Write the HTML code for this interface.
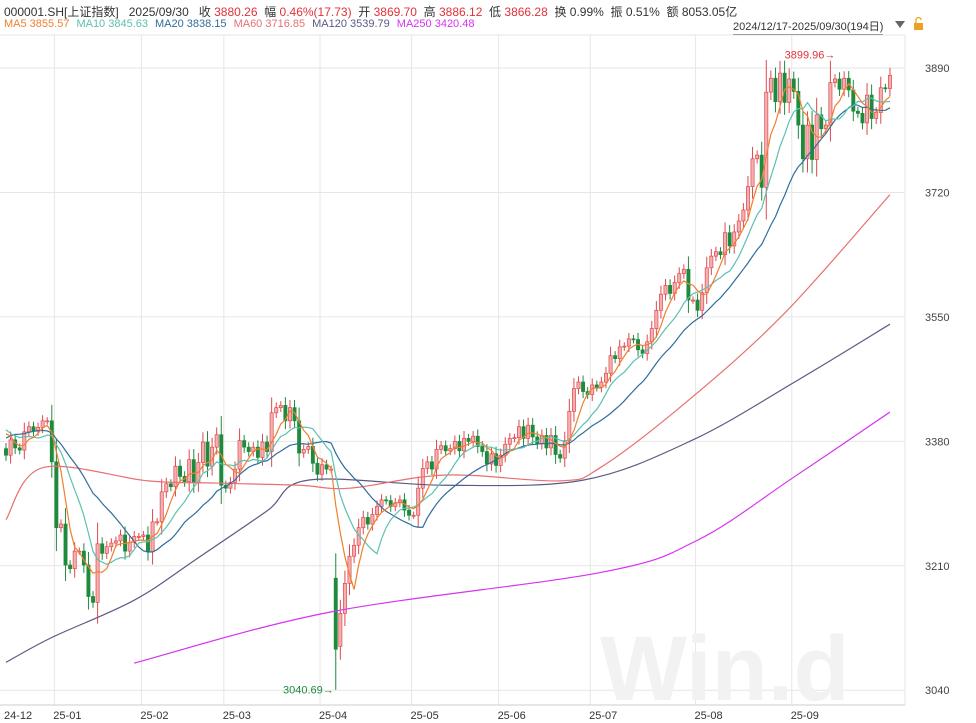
<!DOCTYPE html>
<html><head><meta charset="utf-8">
<style>
body{margin:0;background:#fff;width:976px;height:723px;overflow:hidden;font-family:"Liberation Sans","Noto Sans CJK SC",sans-serif;}
#hdr{position:absolute;left:4px;top:3px;font-size:12px;color:#333;white-space:nowrap}
#hdr .r{color:#e0323a}
#mas{position:absolute;left:4px;top:18px;font-size:11px;white-space:nowrap}
#mas span{margin-right:7px}
#range{position:absolute;left:733px;top:18px;font-size:11px;color:#333;border-bottom:1px solid #555}
svg{position:absolute;left:0;top:0}
</style></head><body>
<div id="hdr">000001.SH[上证指数]&nbsp;&nbsp; 2025/09/30&nbsp;&nbsp; 收 <span class="r">3880.26</span>&nbsp; 幅 <span class="r">0.46%(17.73)</span>&nbsp; 开 <span class="r">3869.70</span>&nbsp; 高 <span class="r">3886.12</span>&nbsp; 低 <span class="r">3866.28</span>&nbsp; 换 0.99%&nbsp; 振 0.51%&nbsp; 额 8053.05亿</div>
<div id="mas"><span style="color:#f07f2f">MA5 3855.57</span><span style="color:#5cc0b0">MA10 3845.63</span><span style="color:#2f6d9c">MA20 3838.15</span><span style="color:#e87070">MA60 3716.85</span><span style="color:#5a5a85">MA120 3539.79</span><span style="color:#d633f0">MA250 3420.48</span></div>
<div id="range">2024/12/17-2025/09/30(194日)</div>
<svg id="c" width="976" height="723"></svg>
<script>
const priorCloses=[3325,3330,3360,3378,3364,3368,3378,3404,3422,3402,3432,3405,3391,3384,3394,3400,3415,3390,3386];
const closes=[3361,3382,3371,3368,3393,3400,3394,3399,3408,3408,3352,
3262,3267,3211,3206,3230,3230,3211,3168,3160,3240,3227,3236,3241,3244,3252,3230,3242,3250,3250,
3252,3229,3270,3270,3311,3322,3318,3346,3332,3325,3355,3324,3351,3379,3346,3372,3389,3320,
3316,3324,3342,3381,3372,3366,3372,3358,3379,3366,3419,3426,3429,3408,3426,3408,3364,3369,3373,3350,3335,
3348,3342,3342,3096,3145,3186,3223,3238,3262,3276,3267,3280,3291,3300,3299,3291,3296,3300,3286,3279,
3279,3316,3343,3352,3342,3369,3374,3367,3370,3380,3367,3384,3380,3387,3373,3366,3349,3363,3347,
3361,3376,3384,3385,3400,3384,3402,3386,3377,3388,3371,3388,3362,3357,3381,3421,3452,3461,3448,3444,
3457,3454,3461,3473,3497,3493,3509,3510,3520,3519,3505,3500,3516,3534,3559,3581,3593,3582,3597,3609,3615,3573,3573,
3559,3583,3617,3633,3639,3635,3665,3647,3666,3681,3696,3728,3766,3771,3727,3857,3876,3844,3883,3843,3875,
3858,3812,3766,3812,3765,3826,3807,3812,3870,3875,3861,3876,3860,3831,3828,3815,3853,3821,3829,3863,3862,3880];
const openOverrides=[[0,3370],[72,3193],[73,3100]];
const extremes=[[72,'low',3040.69],[180,'high',3899.96]];
const ma60=[[0,3273],[8,3344],[31,3326],[46,3323],[64,3320],[75,3316],[96,3334],[121,3326],[130,3345],[149,3436],[170,3555],[193,3717]];
const ma120=[[0,3078],[10,3112],[28,3163],[42,3221],[57,3285],[66,3327],[96,3320],[126,3327],[150,3382],[173,3464],[193,3540]];
const ma250=[[28,3077],[71,3147],[130,3201],[151,3245],[172,3331],[193,3420]];
const yTicks=[3890,3720,3550,3380,3210,3040];
const monthLabels=['24-12','25-01','25-02','25-03','25-04','25-05','25-06','25-07','25-08','25-09'];
const monthStarts=[0,11,30,48,69,89,108,128,151,172];

const svg=document.getElementById('c');const NS='http://www.w3.org/2000/svg';
const X=i=>6+i*4.58;const Y=v=>68+(3890-v)*0.732;
function mk(t,a,p){const e=document.createElementNS(NS,t);for(const k in a)e.setAttribute(k,a[k]);(p||svg).appendChild(e);return e;}
mk('line',{x1:0,x2:905,y1:35,y2:35,stroke:'#e6e6e6'});
yTicks.forEach(v=>{const l=mk('line',{x1:0,x2:905,y1:Y(v),y2:Y(v),stroke:'#e6e6e6'});

const t=mk('text',{x:925,y:Y(v)+4,'font-size':11,fill:'#444'});t.textContent=v;
});
monthStarts.forEach((m,k)=>{const x=X(m)-2;if(k>0){const l=mk('line',{x1:x,x2:x,y1:35,y2:705,stroke:'#e6e6e6'});
}
const t=mk('text',{x:k==0?4:x+13,y:719,'font-size':11,fill:'#333','text-anchor':k==0?'start':'middle'});t.textContent=monthLabels[k];
});
mk('line',{x1:0,x2:905,y1:705,y2:705,stroke:'#ccc'});
mk('line',{x1:905,x2:905,y1:35,y2:705,stroke:'#e6e6e6'});
const wm=mk('text',{x:600,y:700,'font-size':92,fill:'#f2f2f2','font-weight':'bold'});wm.textContent='Win.d';

const opens=closes.map((c,i)=>i?closes[i-1]:c);openOverrides.forEach(([i,v])=>opens[i]=v);
const highs=closes.map((c,i)=>Math.max(c,opens[i])+Math.abs(c-opens[i])*0.3+5);
const lows=closes.map((c,i)=>Math.min(c,opens[i])-Math.abs(c-opens[i])*0.3-5);
extremes.forEach(([i,k,v])=>{if(k=='low')lows[i]=v;else highs[i]=v;});
closes.forEach((c,i)=>{const o=opens[i];const up=c>=o;const col=up?'#e0474c':'#1e8a3c';const x=X(i);
const g=mk('g',{});
mk('line',{x1:x,x2:x,y1:Y(highs[i]),y2:Y(lows[i]),stroke:col,'stroke-width':1},g);
const t=Y(Math.max(o,c)),b=Y(Math.min(o,c));
mk('rect',{x:x-1.6,y:t,width:3.2,height:Math.max(1,b-t),fill:up?'#f4b0b0':col,stroke:col,'stroke-width':0.7},g);});
const all=priorCloses.concat(closes);const P=priorCloses.length;
function maCalc(n){return closes.map((_,i)=>{const k=i+P;if(k<n-1)return null;let s=0;for(let j=k-n+1;j<=k;j++)s+=all[j];return s/n;});}
function smooth(pts){const p=pts.map(([i,v])=>[X(i),Y(v)]);let d='M'+p[0][0]+','+p[0][1];
for(let k=0;k<p.length-1;k++){const a=p[k-1]||p[k],b=p[k],c=p[k+1],e=p[k+2]||c;
d+=' C'+(b[0]+(c[0]-a[0])/6)+','+(b[1]+(c[1]-a[1])/6)+' '+(c[0]-(e[0]-b[0])/6)+','+(c[1]-(e[1]-b[1])/6)+' '+c[0]+','+c[1];}return d;}
function drawSmooth(pts,col,name){const p=mk('path',{d:smooth(pts),fill:'none',stroke:col,'stroke-width':1.2});
}
function drawLine(pts,col,name){const p=mk('polyline',{points:pts.map(([i,v])=>X(i)+','+Y(v)).join(' '),fill:'none',stroke:col,'stroke-width':1.2});
}
drawSmooth(ma250,'#d633f0','ma250-line');drawSmooth(ma120,'#5a5a85','ma120-line');drawSmooth(ma60,'#e87070','ma60-line');
[[20,'#2f6d9c','ma20-line'],[10,'#5cc0b0','ma10-line'],[5,'#f07f2f','ma5-line']].forEach(([n,c,nm])=>{
const a=maCalc(n).map((v,i)=>[i,v]).filter(d=>d[1]!==null);drawLine(a,c,nm);});
extremes.forEach(([i,k,v])=>{const x=X(i);const t=mk('text',{'font-size':11,fill:k=='low'?'#1e8a3c':'#e0323a','text-anchor':'end'});
if(k=='low'){t.setAttribute('x',x-2);t.setAttribute('y',Y(v)+4);t.textContent=v.toFixed(2)+'→';}
else{t.setAttribute('x',x+5);t.setAttribute('y',Y(v)-2);t.textContent=v.toFixed(2)+'→';}
});
const tri=mk('polygon',{points:'895,21 905,21 900,28',fill:'#666'});
const lk=mk('g',{});
mk('rect',{x:914,y:23,width:9,height:7,fill:'#f0a020'},lk);mk('path',{d:'M916 23 v-3 a2.5 2.5 0 0 1 5 0',fill:'none',stroke:'#f0a020','stroke-width':1.3},lk);
</script>
</body></html>
